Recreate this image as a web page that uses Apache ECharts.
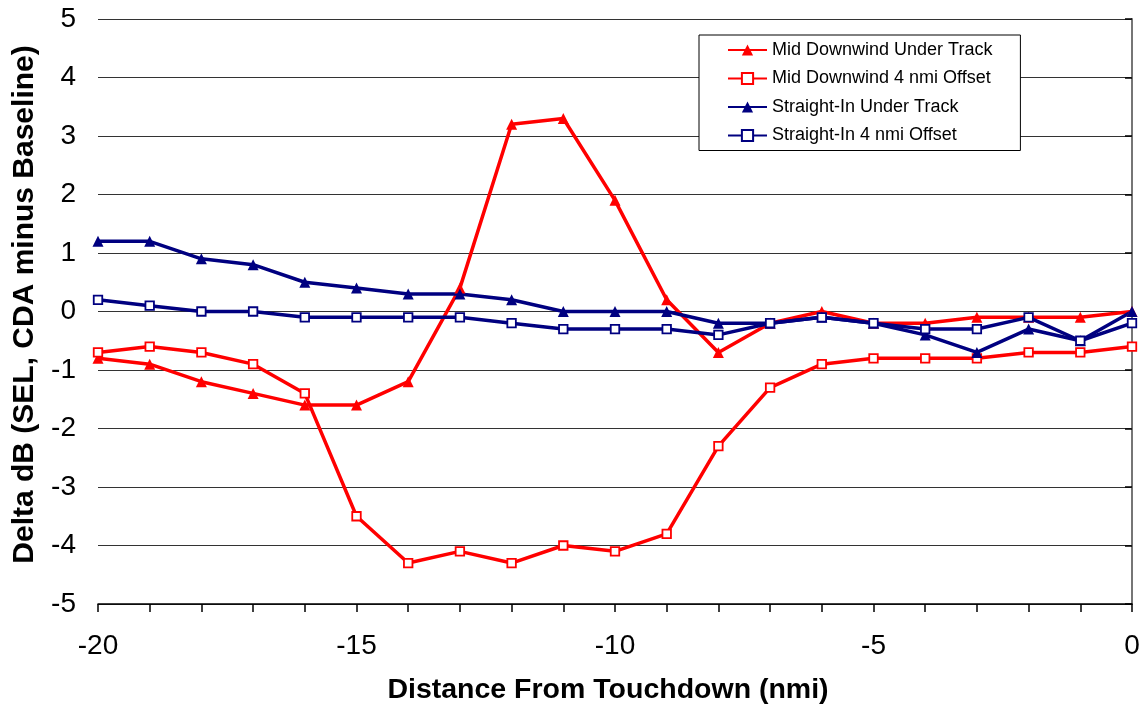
<!DOCTYPE html>
<html><head><meta charset="utf-8">
<script src="https://cdn.jsdelivr.net/npm/echarts@6/dist/echarts.min.js"></script>
<style>html,body{margin:0;padding:0;background:#fff}#c{width:1145px;height:713px}</style>
</head><body><div id="c"></div>
<script>
const distances = [-20,-19,-18,-17,-16,-15,-14,-13,-12,-11,-10,-9,-8,-7,-6,-5,-4,-3,-2,-1,0];
const midDownwindUnderTrack = [-0.8,-0.9,-1.2,-1.4,-1.6,-1.6,-1.2,0.4,3.2,3.3,1.9,0.2,-0.7,-0.2,0.0,-0.2,-0.2,-0.1,-0.1,-0.1,0.0];
const midDownwind4nmiOffset = [-0.7,-0.6,-0.7,-0.9,-1.4,-3.5,-4.3,-4.1,-4.3,-4.0,-4.1,-3.8,-2.3,-1.3,-0.9,-0.8,-0.8,-0.8,-0.7,-0.7,-0.6];
const straightInUnderTrack = [1.2,1.2,0.9,0.8,0.5,0.4,0.3,0.3,0.2,0.0,0.0,0.0,-0.2,-0.2,-0.1,-0.2,-0.4,-0.7,-0.3,-0.5,0.0];
const straightIn4nmiOffset = [0.2,0.1,0.0,0.0,-0.1,-0.1,-0.1,-0.1,-0.2,-0.3,-0.3,-0.3,-0.4,-0.2,-0.1,-0.2,-0.3,-0.3,-0.1,-0.5,-0.2];
const seriesNames = ['Mid Downwind Under Track','Mid Downwind 4 nmi Offset','Straight-In Under Track','Straight-In 4 nmi Offset'];

const pair = arr => distances.map((d,i)=>[d,arr[i]]);
function mk(name, arr, color, tri){
  return {
    name, type:'line', data: pair(arr),
    symbol: tri ? 'triangle' : 'rect',
    symbolSize: tri ? 11 : 8.5,
    lineStyle:{color, width:3.5},
    itemStyle: tri ? {color, borderColor:color, borderWidth:0} : {color:'#fff', borderColor:color, borderWidth:1.8},
    color, animation:false, z: 3
  };
}
const FONT = 'Liberation Sans, Arial';
const chart = echarts.init(document.getElementById('c'));
chart.setOption({
  backgroundColor:'#fff',
  animation:false,
  grid:{left:98, right:13, top:19, bottom:109, containLabel:false},
  legend:{
    orient:'vertical', left:699, top:35,
    padding:[6,28,6,28],
    borderColor:'#000', borderWidth:1,
    itemWidth:39, itemHeight:14, itemGap:10.5,
    backgroundColor:'#fff',
    textStyle:{fontFamily:FONT, fontSize:18, color:'#000'},
    data: seriesNames
  },
  xAxis:{
    type:'value', min:-20, max:0, interval:1,
    name:'Distance From Touchdown (nmi)', nameLocation:'middle', nameGap:72,
    nameTextStyle:{fontFamily:FONT, fontSize:28.5, fontWeight:'bold', color:'#000', padding:[0,14,0,0]},
    axisLine:{show:true, onZero:false, lineStyle:{color:'#000', width:1.5}},
    axisTick:{show:true, inside:false, length:8, lineStyle:{color:'#000', width:1.5}},
    axisLabel:{fontFamily:FONT, fontSize:28, color:'#000', margin:28,
      formatter: v => (v % 5 === 0 ? String(v) : '')},
    splitLine:{show:false}
  },
  yAxis:[{
    type:'value', min:-5, max:5, interval:1,
    name:'Delta dB (SEL, CDA minus Baseline)', nameLocation:'middle', nameGap:53,
    nameTextStyle:{fontFamily:FONT, fontSize:30, fontWeight:'bold', color:'#000', padding:[0,0,0,14]},
    axisLine:{show:true, lineStyle:{color:'#000', width:1.5}},
    axisTick:{show:true, length:7, lineStyle:{color:'#000', width:1.5}},
    axisLabel:{fontFamily:FONT, fontSize:28, color:'#000', margin:22},
    splitLine:{show:true, lineStyle:{color:'#333', width:1.2}}
  },{
    type:'value', min:-5, max:5, interval:1, position:'right',
    axisLine:{show:true, lineStyle:{color:'#888', width:1.5}},
    axisTick:{show:false}, axisLabel:{show:false}, splitLine:{show:false}
  }],
  series:[
    mk(seriesNames[0], midDownwindUnderTrack, '#FF0000', true),
    mk(seriesNames[1], midDownwind4nmiOffset, '#FF0000', false),
    mk(seriesNames[2], straightInUnderTrack, '#000080', true),
    mk(seriesNames[3], straightIn4nmiOffset, '#000080', false)
  ]
});
</script></body></html>
